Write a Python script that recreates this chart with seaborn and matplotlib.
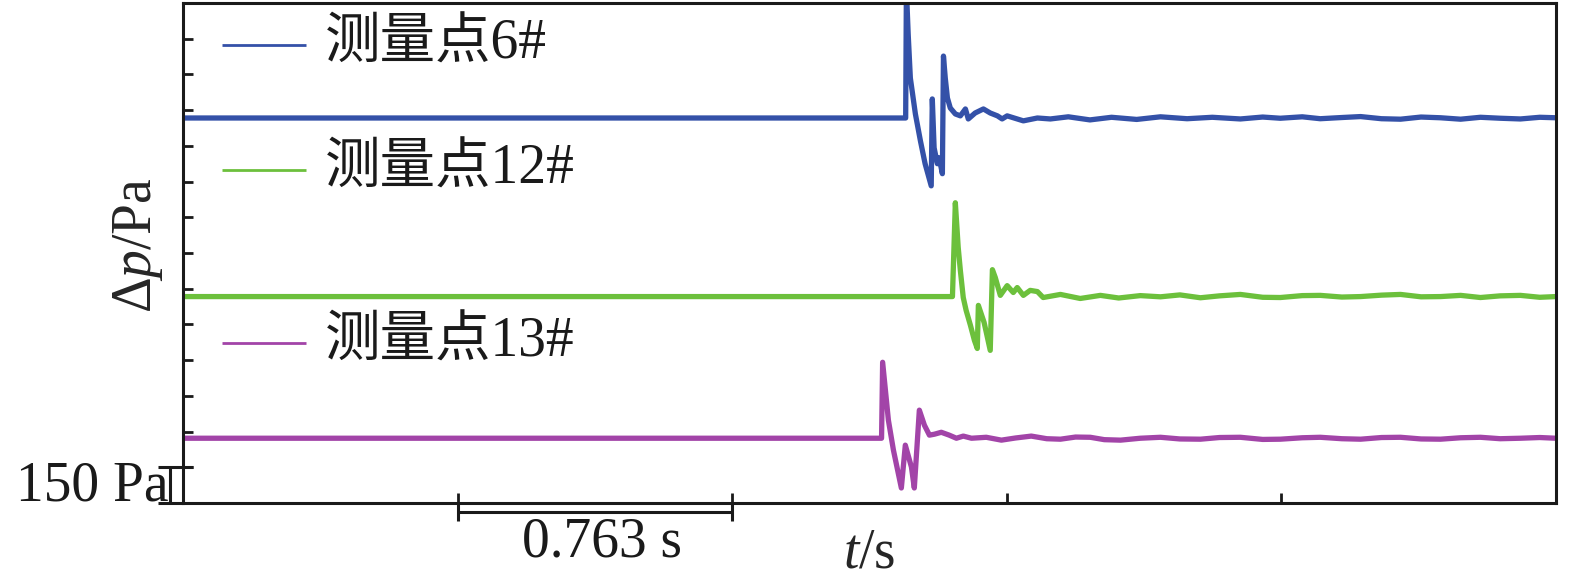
import numpy as np
import pandas as pd
import matplotlib
matplotlib.use("Agg")
import matplotlib.pyplot as plt
import seaborn as sns

# ---------------- data (t in s, Δp in Pa) ----------------
t6 = [0.000, 2.008, 2.010, 2.015, 2.021, 2.035, 2.049, 2.062, 2.079, 2.082, 2.087,
      2.096, 2.101, 2.110, 2.113, 2.118, 2.124, 2.132, 2.146, 2.160, 2.174, 2.182,
      2.201, 2.224, 2.243, 2.263, 2.276, 2.290, 2.335, 2.374, 2.410, 2.460, 2.520,
      2.580, 2.650, 2.716, 2.790, 2.860, 2.938, 3.000, 3.049, 3.110, 3.160, 3.220,
      3.272, 3.330, 3.383, 3.440, 3.494, 3.550, 3.605, 3.660, 3.716, 3.770, 3.815]
p6 = [1617, 1617, 2160, 1969, 1785, 1634, 1521, 1425, 1332, 1697, 1492,
      1425, 1450, 1383, 1877, 1785, 1701, 1659, 1634, 1626, 1655, 1613,
      1638, 1655, 1638, 1626, 1613, 1626, 1605, 1617, 1613, 1622, 1609,
      1620, 1611, 1622, 1614, 1620, 1613, 1621, 1616, 1622, 1614, 1619,
      1623, 1614, 1612, 1621, 1618, 1612, 1620, 1616, 1613, 1620, 1618]

t12 = [0.000, 2.138, 2.146, 2.151, 2.154, 2.160, 2.168, 2.176, 2.188, 2.199, 2.207,
       2.210, 2.226, 2.243, 2.249, 2.257, 2.271, 2.290, 2.307, 2.318, 2.335, 2.354,
       2.374, 2.390, 2.438, 2.493, 2.549, 2.600, 2.660, 2.716, 2.770, 2.827, 2.880,
       2.938, 3.000, 3.049, 3.110, 3.160, 3.220, 3.272, 3.330, 3.383, 3.440, 3.494,
       3.550, 3.605, 3.660, 3.716, 3.770, 3.815]
p12 = [867, 867, 1261, 1144, 1073, 976, 863, 809, 746, 683, 649,
       830, 758, 641, 980, 947, 872, 913, 884, 905, 872, 893,
       888, 863, 876, 859, 872, 861, 871, 866, 874, 862, 870,
       876, 864, 863, 871, 872, 865, 867, 873, 876, 866, 867,
       872, 863, 870, 872, 864, 867]

t13 = [0.000, 1.941, 1.944, 1.960, 1.974, 1.996, 2.007, 2.024, 2.032, 2.046, 2.060,
       2.074, 2.088, 2.107, 2.129, 2.149, 2.168, 2.191, 2.232, 2.274, 2.313, 2.357,
       2.400, 2.438, 2.480, 2.521, 2.560, 2.605, 2.660, 2.716, 2.770, 2.827, 2.880,
       2.938, 3.000, 3.049, 3.110, 3.160, 3.220, 3.272, 3.330, 3.383, 3.440, 3.494,
       3.550, 3.605, 3.660, 3.716, 3.770, 3.815]
p13 = [272, 272, 591, 348, 222, 63, 243, 151, 63, 390, 327,
       285, 289, 297, 285, 272, 281, 272, 276, 264, 273, 281,
       270, 268, 277, 276, 266, 264, 272, 276, 269, 268, 275,
       276, 267, 268, 274, 276, 270, 268, 275, 276, 269, 268,
       274, 276, 270, 272, 275, 272]

labels = ["测量点6#", "测量点12#", "测量点13#"]
colors = ["#3451A8", "#6CC03C", "#A244A8"]

x_tick_step = 0.763   # s
y_tick_step = 150     # Pa
x_max = 5 * x_tick_step
y_max = 14 * y_tick_step

# ---------------- style ----------------
sns.set_style("white")
plt.rcParams["font.family"] = ["Liberation Serif", "Noto Sans CJK SC", "DejaVu Sans"]
plt.rcParams["mathtext.fontset"] = "custom"
plt.rcParams["mathtext.rm"] = "Liberation Serif"
plt.rcParams["mathtext.it"] = "Liberation Serif:italic"

FS = 40

fig = plt.figure(figsize=(15.75, 5.86), dpi=100)
ax = fig.add_axes([183 / 1575, 83 / 586, 1373 / 1575, 500 / 586])

frames = []
for t, p, lab in zip([t6, t12, t13], [p6, p12, p13], labels):
    frames.append(pd.DataFrame({"t": t, "dp": p, "series": lab}))
df = pd.concat(frames, ignore_index=True)

sns.lineplot(data=df, x="t", y="dp", hue="series", palette=dict(zip(labels, colors)),
             sort=False, estimator=None, linewidth=3.8, legend=False, ax=ax)

ax.set_xlim(0, x_max)
ax.set_ylim(0, y_max)

for s in ax.spines.values():
    s.set_linewidth(2.2)
    s.set_color("#1a1a1a")

ax.set_xticks([x_tick_step * k for k in range(1, 5)])
ax.set_yticks([y_tick_step * k for k in range(1, 14)])
ax.set_xticklabels([])
ax.set_yticklabels([])
ax.tick_params(axis="both", direction="in", length=7.5, width=2, color="#1a1a1a",
               bottom=True, left=True, top=False, right=False)

# axis labels
ax.set_xlabel("$t$/s", fontsize=FS)
ax.xaxis.set_label_coords(0.5, -0.05)
ax.set_ylabel("Δ$p$/Pa", fontsize=FS)
ax.yaxis.set_label_coords(-0.013, 0.516)

# manual legend
leg_y = [0.916, 0.666, 0.32]
for lab, col, yy in zip(labels, colors, leg_y):
    ax.plot([0.0284, 0.0896], [yy, yy], transform=ax.transAxes, color=col, lw=2.0,
            solid_capstyle="butt")
    ax.text(0.1034, yy, lab, transform=ax.transAxes, fontsize=FS, va="center",
            ha="left", color="#1a1a1a")

# y scale bar (150 Pa)
k = dict(color="#1a1a1a", lw=2.2, clip_on=False, solid_capstyle="butt")
ax.plot([-0.070, 0.0], [0, 0], **k)
ax.plot([-0.070, 0.028], [y_tick_step, y_tick_step], **k)
ax.plot([-0.036, -0.036], [0, y_tick_step], **k)
ax.text(-0.040, 12, "150 Pa", fontsize=FS, ha="right", va="baseline", color="#1a1a1a")

# x scale bar (0.763 s)
ax.plot([x_tick_step, 2 * x_tick_step], [-38, -38], **k)
ax.plot([x_tick_step, x_tick_step], [0, -75], **k)
ax.plot([2 * x_tick_step, 2 * x_tick_step], [0, -75], **k)
ax.text(1.5 * x_tick_step + 0.02, -226, "0.763 s", fontsize=FS, ha="center",
        va="baseline", color="#1a1a1a")

fig.savefig("out.png", dpi=100)
